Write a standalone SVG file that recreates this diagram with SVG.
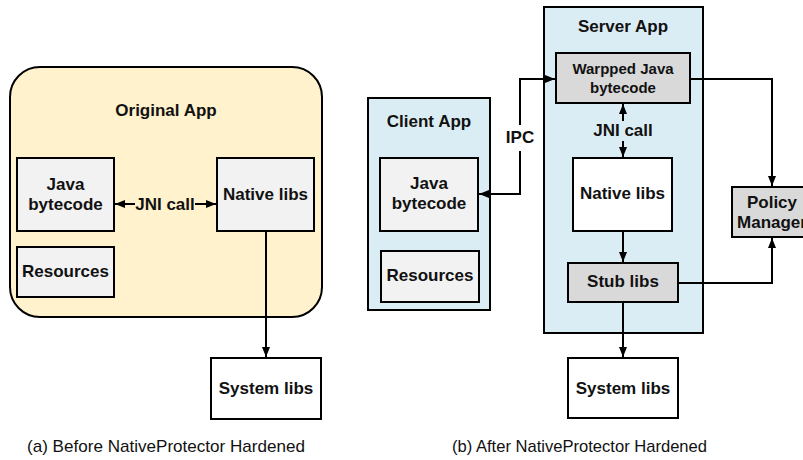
<svg xmlns="http://www.w3.org/2000/svg" width="803" height="460" viewBox="0 0 803 460">
<style>
.t{font-family:"Liberation Sans",Arial,sans-serif;font-weight:bold;font-size:17px;fill:#111;text-anchor:middle;dominant-baseline:central}
.s{font-size:15px}
.cap{font-family:"Liberation Sans",Arial,sans-serif;font-size:17px;fill:#111}
.b{stroke:#000;stroke-width:2}
.lg{fill:#F2F2F2}
.dg{fill:#D9D9D9}
.w{fill:#fff}
.bl{fill:#DBEDF4}
.c{fill:none;stroke:#000;stroke-width:2}
</style>
<defs>
<marker id="ah" markerUnits="userSpaceOnUse" markerWidth="10" markerHeight="10" viewBox="0 0 10 10" refX="10" refY="5" orient="auto-start-reverse">
<path d="M0,1 L10,5 L0,9 Z" fill="#000"/>
</marker>
</defs>

<g id="original-app">
<rect x="10" y="67" width="312" height="250" rx="30" ry="30" fill="#FFF2CC" class="b"/>
<text class="t" x="166" y="110">Original App</text>
</g>
<g id="java-bytecode-a">
<rect x="17" y="158" width="97" height="73" class="b lg"/>
<text class="t" x="65.5" y="184">Java</text>
<text class="t" x="65.5" y="204">bytecode</text>
</g>
<g id="native-libs-a">
<rect x="217" y="158" width="97" height="73" class="b lg"/>
<text class="t" x="265.5" y="194">Native libs</text>
</g>
<g id="resources-a">
<rect x="17" y="247" width="97" height="50" class="b lg"/>
<text class="t" x="65.5" y="271">Resources</text>
</g>
<g id="system-libs-a">
<rect x="211" y="358" width="110" height="61" class="b w"/>
<text class="t" x="266" y="388">System libs</text>
</g>

<g id="server-app">
<rect x="544" y="7" width="159" height="326" class="b bl"/>
<text class="t" x="623" y="26">Server App</text>
</g>
<g id="client-app">
<rect x="368" y="98" width="122" height="212" class="b bl"/>
<text class="t" x="429" y="121">Client App</text>
</g>
<g id="java-bytecode-b">
<rect x="380" y="158" width="98" height="73" class="b lg"/>
<text class="t" x="429" y="183">Java</text>
<text class="t" x="429" y="203">bytecode</text>
</g>
<g id="resources-b">
<rect x="381" y="251" width="98" height="51" class="b lg"/>
<text class="t" x="430" y="275">Resources</text>
</g>
<g id="warpped-java">
<rect x="556" y="53" width="134" height="50" class="b dg"/>
<text class="t s" x="623" y="68">Warpped Java</text>
<text class="t s" x="623" y="87">bytecode</text>
</g>
<g id="native-libs-b">
<rect x="573" y="158" width="99" height="73" class="b w"/>
<text class="t" x="622.5" y="193">Native libs</text>
</g>
<g id="stub-libs">
<rect x="568" y="263" width="110" height="39" class="b dg"/>
<text class="t" x="623" y="281">Stub libs</text>
</g>
<g id="policy-manager">
<rect x="732" y="187" width="80" height="50" class="b dg"/>
<text class="t" x="772" y="202">Policy</text>
<text class="t" x="772" y="222">Manager</text>
</g>
<g id="system-libs-b">
<rect x="568" y="358" width="110" height="60" class="b w"/>
<text class="t" x="623" y="388">System libs</text>
</g>

<g id="connectors">
<line class="c" x1="135" y1="204" x2="115" y2="204" marker-end="url(#ah)"/>
<line class="c" x1="195" y1="204" x2="216" y2="204" marker-end="url(#ah)"/>
<text class="t" x="165" y="204">JNI call</text>
<line class="c" x1="266" y1="231" x2="266" y2="357" marker-end="url(#ah)"/>

<polyline class="c" points="520,125 520,79 555,79" marker-end="url(#ah)"/>
<polyline class="c" points="520,151 520,194 479,194" marker-end="url(#ah)"/>
<text class="t" x="520" y="137">IPC</text>

<line class="c" x1="623" y1="121" x2="623" y2="104" marker-end="url(#ah)"/>
<line class="c" x1="623" y1="141" x2="623" y2="157" marker-end="url(#ah)"/>
<text class="t" x="623" y="130">JNI call</text>

<line class="c" x1="623" y1="231" x2="623" y2="262" marker-end="url(#ah)"/>
<polyline class="c" points="690,79 772,79 772,186" marker-end="url(#ah)"/>
<polyline class="c" points="678,283 772,283 772,238" marker-end="url(#ah)"/>
<line class="c" x1="623" y1="302" x2="623" y2="357" marker-end="url(#ah)"/>
</g>

<text class="cap" x="27" y="452" textLength="278" lengthAdjust="spacingAndGlyphs">(a) Before NativeProtector Hardened</text>
<text class="cap" x="452" y="452" textLength="255" lengthAdjust="spacingAndGlyphs">(b) After NativeProtector Hardened</text>
</svg>
